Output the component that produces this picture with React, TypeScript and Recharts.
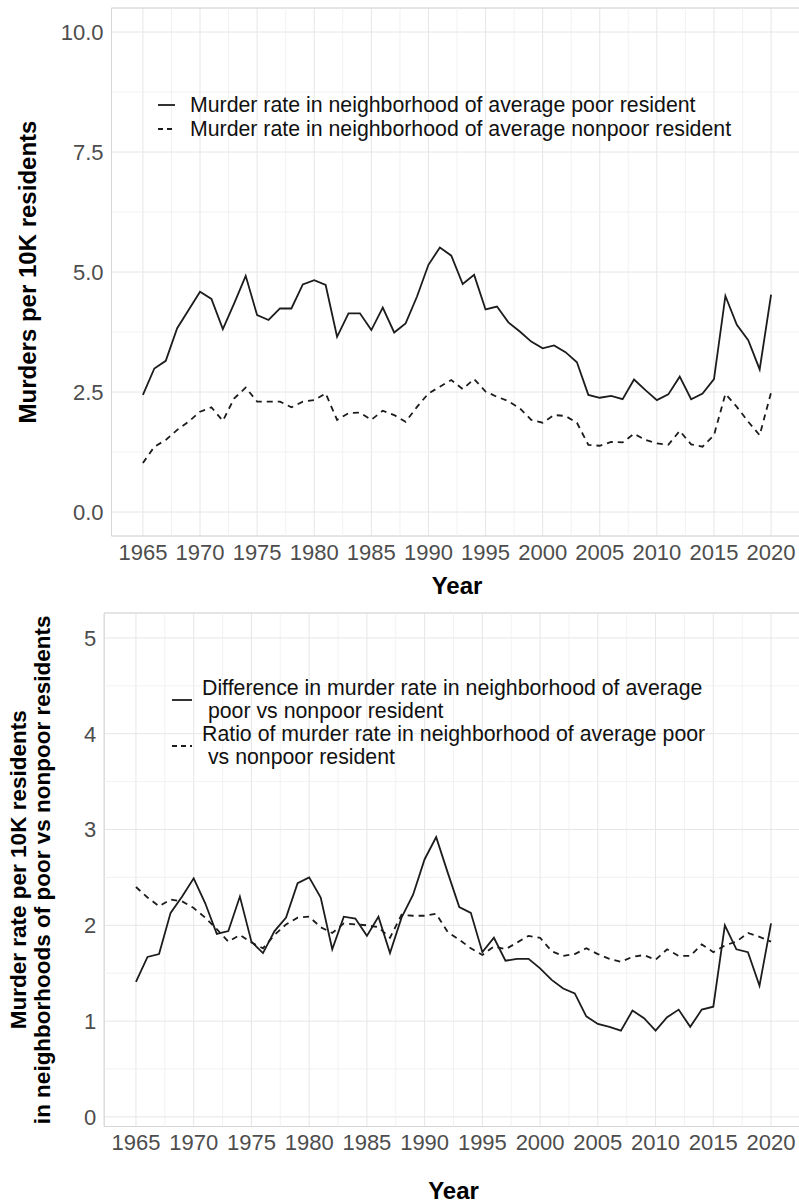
import React from 'react';
import {
  LineChart,
  Line,
  XAxis,
  YAxis,
  CartesianGrid,
  ReferenceLine,
  ReferenceArea,
  Legend,
  Label,
} from 'recharts';

const years = [
  1965, 1966, 1967, 1968, 1969, 1970, 1971, 1972, 1973, 1974, 1975, 1976, 1977, 1978,
  1979, 1980, 1981, 1982, 1983, 1984, 1985, 1986, 1987, 1988, 1989, 1990, 1991, 1992,
  1993, 1994, 1995, 1996, 1997, 1998, 1999, 2000, 2001, 2002, 2003, 2004, 2005, 2006,
  2007, 2008, 2009, 2010, 2011, 2012, 2013, 2014, 2015, 2016, 2017, 2018, 2019, 2020,
];

// murders per 10K, neighborhood of average poor / nonpoor resident
const poorRate = [
  2.44, 2.99, 3.15, 3.83, 4.21, 4.59, 4.44, 3.81, 4.35, 4.92, 4.1, 4.0, 4.24, 4.24,
  4.74, 4.83, 4.73, 3.65, 4.14, 4.14, 3.79, 4.26, 3.74, 3.93, 4.49, 5.15, 5.51, 5.34,
  4.75, 4.94, 4.22, 4.28, 3.95, 3.76, 3.55, 3.41, 3.47, 3.33, 3.12, 2.44, 2.38, 2.42,
  2.35, 2.76, 2.54, 2.33, 2.45, 2.82, 2.35, 2.47, 2.77, 4.5, 3.9, 3.58, 2.97, 4.53,
];
const nonpoorRate = [
  1.02, 1.36, 1.5, 1.71, 1.88, 2.09, 2.18, 1.9, 2.37, 2.59, 2.3, 2.3, 2.3, 2.18,
  2.3, 2.33, 2.47, 1.92, 2.06, 2.07, 1.92, 2.11, 2.02, 1.88, 2.19, 2.47, 2.61, 2.75,
  2.56, 2.77, 2.51, 2.4, 2.31, 2.16, 1.92, 1.86, 2.02, 2.0, 1.86, 1.4, 1.38, 1.46,
  1.45, 1.63, 1.5, 1.43, 1.4, 1.69, 1.41, 1.36, 1.6, 2.46, 2.19, 1.88, 1.6, 2.49,
];

// poor vs nonpoor: difference and ratio
const diffRate = [
  1.41, 1.67, 1.7, 2.13, 2.3, 2.49, 2.23, 1.91, 1.94, 2.3, 1.83, 1.71, 1.94, 2.08,
  2.44, 2.5, 2.29, 1.75, 2.09, 2.07, 1.89, 2.09, 1.71, 2.08, 2.32, 2.69, 2.92, 2.55,
  2.19, 2.13, 1.72, 1.87, 1.63, 1.65, 1.65, 1.55, 1.43, 1.34, 1.29, 1.05, 0.97, 0.94,
  0.9, 1.11, 1.03, 0.9, 1.04, 1.12, 0.94, 1.12, 1.15, 2.0, 1.75, 1.72, 1.37, 2.02,
];
const ratioRate = [
  2.4, 2.29, 2.2, 2.27, 2.25, 2.18, 2.08, 1.96, 1.83, 1.9, 1.82, 1.76, 1.9, 2.01,
  2.08, 2.09, 1.98, 1.92, 2.02, 2.01, 2.0, 1.98, 1.87, 2.11, 2.1, 2.1, 2.12, 1.93,
  1.85, 1.76, 1.69, 1.78, 1.75, 1.82, 1.89, 1.87, 1.73, 1.68, 1.7, 1.76, 1.7, 1.65,
  1.62, 1.67, 1.69, 1.64, 1.75, 1.68, 1.68, 1.8, 1.72, 1.79, 1.83, 1.92, 1.88, 1.83,
];

const yearTicks = [1965, 1970, 1975, 1980, 1985, 1990, 1995, 2000, 2005, 2010, 2015, 2020];
const yearMinor = [1967.5, 1972.5, 1977.5, 1982.5, 1987.5, 1992.5, 1997.5, 2002.5, 2007.5, 2012.5, 2017.5];
const topTicks = [0, 2.5, 5, 7.5, 10];
const topMinor = [1.25, 3.75, 6.25, 8.75];
const bottomTicks = [0, 1, 2, 3, 4, 5];
const bottomMinor = [0.5, 1.5, 2.5, 3.5, 4.5];

const topLegend = [
  'Murder rate in neighborhood of average poor resident',
  'Murder rate in neighborhood of average nonpoor resident',
];
const bottomLegend = [
  ['Difference in murder rate in neighborhood of average', ' poor vs nonpoor resident'],
  ['Ratio of murder rate in neighborhood of average poor', ' vs nonpoor resident'],
];

const FONT = '"Liberation Sans", Arial, Helvetica, sans-serif';
const INK = '#1c1c1c';
const DASH = '6 5';
const X_DOMAIN: [number, number] = [1962.25, 2022.75];

const topData = years.map((year, i) => ({ year, poor: poorRate[i], nonpoor: nonpoorRate[i] }));
const bottomData = years.map((year, i) => ({ year, diff: diffRate[i], ratio: ratioRate[i] }));

const tickStyle = { fill: '#4d4d4d', fontSize: 22, fontFamily: FONT };
const titleStyle = { fill: '#000', fontSize: 24, fontWeight: 700, fontFamily: FONT };

function LegendKey({ dashed, width, from, to }: { dashed: boolean; width: number; from: number; to: number }) {
  return (
    <svg width={width} height={10} style={{ flex: 'none' }}>
      <line x1={from} x2={to} y1={5} y2={5} stroke={INK} strokeWidth={1.8} strokeDasharray={dashed ? '5 4' : undefined} />
    </svg>
  );
}

function TopLegendBox() {
  return (
    <div style={{ fontFamily: FONT, fontSize: 21.3, color: '#111', lineHeight: '24px' }}>
      {topLegend.map((text, i) => (
        <div key={text} style={{ display: 'flex', alignItems: 'center', height: 24, whiteSpace: 'nowrap' }}>
          <LegendKey dashed={i === 1} width={40} from={8} to={25} />
          <span>{text}</span>
        </div>
      ))}
    </div>
  );
}

function BottomLegendBox() {
  return (
    <div style={{ fontFamily: FONT, fontSize: 21.3, color: '#111', lineHeight: '23px' }}>
      {bottomLegend.map((lines, i) => (
        <div key={lines[0]} style={{ display: 'flex', alignItems: 'center' }}>
          <LegendKey dashed={i === 1} width={42} from={12} to={32} />
          <div style={{ whiteSpace: 'pre' }}>
            {lines.map((l) => (
              <div key={l}>{l}</div>
            ))}
          </div>
        </div>
      ))}
    </div>
  );
}

function YTitle({ viewBox, lines, xs, size }: { viewBox?: any; lines: string[]; xs: number[]; size: number }) {
  const cy = viewBox.y + viewBox.height / 2;
  return (
    <g>
      {lines.map((l, i) => (
        <text
          key={l}
          x={xs[i]}
          y={cy}
          transform={`rotate(-90 ${xs[i]} ${cy})`}
          textAnchor="middle"
          dominantBaseline="central"
          style={{ ...titleStyle, fontSize: size }}
        >
          {l}
        </text>
      ))}
    </g>
  );
}

function gridExtras(xMinor: number[], yMinor: number[], yDomain: [number, number]) {
  return [
    ...xMinor.map((v) => (
      <ReferenceLine key={`xm${v}`} x={v} stroke="#efefef" strokeWidth={0.8} />
    )),
    ...yMinor.map((v) => (
      <ReferenceLine key={`ym${v}`} y={v} stroke="#efefef" strokeWidth={0.8} />
    )),
    <ReferenceArea
      key="border"
      x1={X_DOMAIN[0]}
      x2={X_DOMAIN[1]}
      y1={yDomain[0]}
      y2={yDomain[1]}
      fill="none"
      fillOpacity={0}
      stroke="#d6d6d6"
      strokeWidth={1}
    />,
  ];
}

export default function App() {
  const topY: [number, number] = [-0.5, 10.5];
  const botY: [number, number] = [-0.1, 5.26];
  return (
    <div
      style={{
        position: 'absolute',
        left: 0,
        top: 0,
        width: 799,
        height: 1203,
        overflow: 'hidden',
        background: '#fff',
        fontFamily: FONT,
      }}
    >
      <div style={{ position: 'absolute', left: 0, top: 0 }}>
        <LineChart width={810} height={600} data={topData} margin={{ top: 8, right: 7.5, left: 0, bottom: 0 }}>
          <CartesianGrid stroke="#e6e6e6" strokeWidth={1} />
          {gridExtras(yearMinor, topMinor, topY)}
          <XAxis
            dataKey="year"
            type="number"
            domain={X_DOMAIN}
            ticks={yearTicks}
            interval={0}
            allowDataOverflow
            tickLine={false}
            axisLine={false}
            tick={tickStyle}
            height={64}
          >
            <Label value="Year" position="insideBottom" offset={6} style={titleStyle} />
          </XAxis>
          <YAxis
            type="number"
            domain={topY}
            ticks={topTicks}
            interval={0}
            allowDataOverflow
            tickFormatter={(v: number) => v.toFixed(1)}
            tickLine={false}
            axisLine={false}
            tick={tickStyle}
            width={111.5}
          >
            <Label
              content={(p: any) => (
                <YTitle viewBox={p.viewBox} lines={['Murders per 10K residents']} xs={[27]} size={24} />
              )}
            />
          </YAxis>
          <Legend
            layout="horizontal"
            align="center"
            verticalAlign="middle"
            wrapperStyle={{ left: 150, top: 93, width: 'auto' }}
            content={() => <TopLegendBox />}
          />
          <Line type="linear" dataKey="poor" stroke={INK} strokeWidth={1.8} dot={false} isAnimationActive={false} />
          <Line
            type="linear"
            dataKey="nonpoor"
            stroke={INK}
            strokeWidth={1.8}
            strokeDasharray={DASH}
            dot={false}
            isAnimationActive={false}
          />
        </LineChart>
      </div>

      <div style={{ position: 'absolute', left: 0, top: 600 }}>
        <LineChart width={810} height={603} data={bottomData} margin={{ top: 13, right: 7.2, left: 0, bottom: 0 }}>
          <CartesianGrid stroke="#e6e6e6" strokeWidth={1} />
          {gridExtras(yearMinor, bottomMinor, botY)}
          <XAxis
            dataKey="year"
            type="number"
            domain={X_DOMAIN}
            ticks={yearTicks}
            interval={0}
            allowDataOverflow
            tickLine={false}
            axisLine={false}
            tick={tickStyle}
            height={76.5}
          >
            <Label value="Year" position="insideBottom" offset={4.5} style={titleStyle} />
          </XAxis>
          <YAxis
            type="number"
            domain={botY}
            ticks={bottomTicks}
            interval={0}
            allowDataOverflow
            tickLine={false}
            axisLine={false}
            tick={tickStyle}
            width={104.2}
          >
            <Label
              content={(p: any) => (
                <YTitle
                  viewBox={p.viewBox}
                  lines={['Murder rate per 10K residents', 'in neighborhoods of poor vs nonpoor residents']}
                  xs={[18, 42]}
                  size={22.5}
                />
              )}
            />
          </YAxis>
          <Legend
            layout="horizontal"
            align="center"
            verticalAlign="middle"
            wrapperStyle={{ left: 160, top: 77, width: 'auto' }}
            content={() => <BottomLegendBox />}
          />
          <Line type="linear" dataKey="diff" stroke={INK} strokeWidth={1.8} dot={false} isAnimationActive={false} />
          <Line
            type="linear"
            dataKey="ratio"
            stroke={INK}
            strokeWidth={1.8}
            strokeDasharray={DASH}
            dot={false}
            isAnimationActive={false}
          />
        </LineChart>
      </div>
    </div>
  );
}
